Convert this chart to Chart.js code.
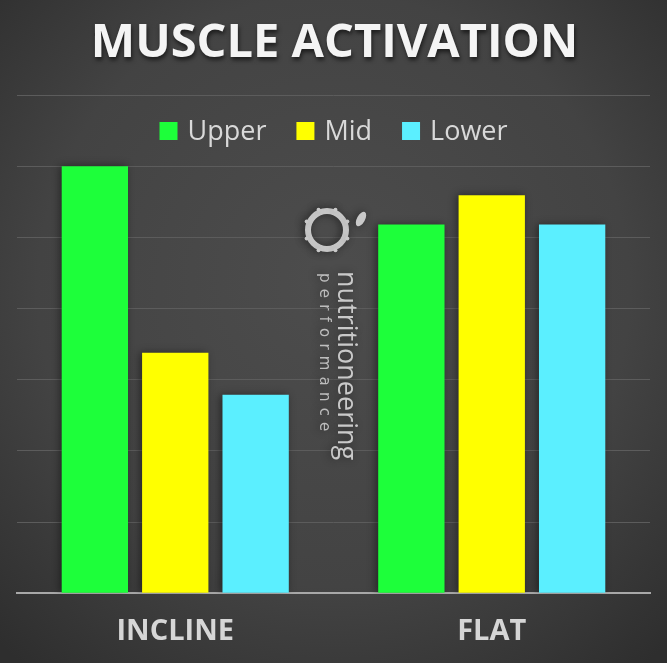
<!DOCTYPE html>
<html>
<head>
<meta charset="utf-8">
<script src="https://cdn.jsdelivr.net/npm/chart.js@4.4.1/dist/chart.umd.min.js"></script>
<style>
	html, body { margin: 0; padding: 0; background: #3c3c3c; }
	#wrap { width: 667px; height: 663px; }
</style>
</head>
<body>
<div id="wrap"><canvas id="muscleChart" width="667" height="663"></canvas></div>
<script>
const CATEGORIES = ['INCLINE', 'FLAT'];
const UPPER = [6.0, 5.18];
const MID = [3.38, 5.59];
const LOWER = [2.79, 5.18];
const Y_MAX = 7;

const COLOR_UPPER = '#1dff3a';
const COLOR_MID = '#ffff00';
const COLOR_LOWER = '#5befff';

// dark radial background
const backgroundPlugin = {
	id: 'background',
	beforeDraw(chart) {
		const { ctx, width, height } = chart;
		const g = ctx.createRadialGradient(width / 2, height * 0.42, 20, width / 2, height * 0.45, width * 0.72);
		g.addColorStop(0, '#4c4c4c');
		g.addColorStop(0.6, '#434343');
		g.addColorStop(1, '#2e2e2e');
		ctx.save();
		ctx.fillStyle = g;
		ctx.fillRect(0, 0, width, height);
		ctx.restore();
	},
};

// soft shadow behind the bars
const barShadow = {
	id: 'barShadow',
	beforeDatasetsDraw(chart) {
		const ctx = chart.ctx;
		ctx.save();
		ctx.shadowColor = 'rgba(0, 0, 0, 0.45)';
		ctx.shadowBlur = 8;
		ctx.shadowOffsetX = -2;
		ctx.shadowOffsetY = 0;
	},
	afterDatasetsDraw(chart) {
		chart.ctx.restore();
	},
};

// watermark logo + rotated text
const watermark = {
	id: 'watermark',
	beforeDatasetsDraw(chart) {
		const ctx = chart.ctx;
		ctx.save();
		ctx.strokeStyle = '#c9c9c9';
		ctx.fillStyle = '#c9c9c9';
		ctx.lineWidth = 6;
		ctx.beginPath();
		ctx.arc(327, 230, 19, 0, Math.PI * 2);
		ctx.stroke();
		// notches on the ring
		for (let i = 0; i < 8; i++) {
			const a = i * Math.PI / 4 + Math.PI / 8;
			ctx.beginPath();
			ctx.arc(327 + Math.cos(a) * 22, 230 + Math.sin(a) * 22, 2, 0, Math.PI * 2);
			ctx.fill();
		}
		// leaf
		ctx.beginPath();
		ctx.ellipse(361, 219, 4, 8, 0.5, 0, Math.PI * 2);
		ctx.fill();

		ctx.translate(346, 271);
		ctx.rotate(Math.PI / 2);
		ctx.font = '27px "Open Sans", sans-serif';
		ctx.textBaseline = 'middle';
		ctx.textAlign = 'left';
		ctx.fillText('nutritioneering', 0, 0);
		ctx.font = '15px "DejaVu Sans", sans-serif';
		ctx.fillStyle = '#bdbdbd';
		let x = 2;
		for (const ch of 'performance') {
			ctx.fillText(ch, x, 22);
			x += ctx.measureText(ch).width + 6.2;
		}
		ctx.restore();
	},
};

// title with drop shadow
const titleShadow = {
	id: 'titleShadow',
	beforeDraw(chart) {
		const ctx = chart.ctx;
		ctx.save();
		ctx.shadowColor = 'rgba(0,0,0,0.6)';
		ctx.shadowBlur = 4;
		ctx.shadowOffsetX = 1;
		ctx.shadowOffsetY = 3;
		ctx.font = 'bold 47px "Open Sans", sans-serif';
		ctx.fillStyle = '#f4f4f4';
		ctx.textAlign = 'center';
		ctx.textBaseline = 'middle';
		ctx.fillText(chart.options.plugins.title.text, chart.width / 2 + 1, 44);
		ctx.restore();
	},
};

// horizontal legend sitting inside the plot area
const legendInside = {
	id: 'legendInside',
	afterDatasetsDraw(chart) {
		const ctx = chart.ctx;
		const box = 18, gap = 10, spacing = 30, cy = 131;
		ctx.save();
		ctx.font = '27px "Open Sans", sans-serif';
		const items = chart.data.datasets.map(ds => ({
			label: ds.label,
			color: ds.backgroundColor,
			w: ctx.measureText(ds.label).width,
		}));
		let total = items.reduce((s, it) => s + box + gap + it.w, 0) + spacing * (items.length - 1);
		let x = (chart.chartArea.left + chart.chartArea.right) / 2 - total / 2;
		ctx.textBaseline = 'middle';
		ctx.textAlign = 'left';
		items.forEach(it => {
			ctx.fillStyle = it.color;
			ctx.fillRect(x, cy - box / 2, box, box);
			ctx.fillStyle = '#d9d9d9';
			ctx.fillText(it.label, x + box + gap, cy + 1);
			x += box + gap + it.w + spacing;
		});
		ctx.restore();
	},
};

const ctx = document.querySelector('#muscleChart').getContext('2d');

const muscleChart = new Chart(ctx, {
	type: 'bar',
	data: {
		labels: CATEGORIES,
		datasets: [
			{ label: 'Upper', data: UPPER, backgroundColor: COLOR_UPPER },
			{ label: 'Mid', data: MID, backgroundColor: COLOR_MID },
			{ label: 'Lower', data: LOWER, backgroundColor: COLOR_LOWER },
		],
	},
	options: {
		responsive: false,
		animation: false,
		layout: {
			padding: { left: 17, right: 17, top: 0, bottom: 1 },
		},
		datasets: {
			bar: {
				categoryPercentage: 0.762,
				barPercentage: 0.825,
			},
		},
		scales: {
			x: {
				grid: { display: false },
				border: { display: true, color: '#a8a8a8', width: 2 },
				ticks: {
					color: '#d6d6d6',
					padding: 13,
					font: { family: '"Open Sans", sans-serif', size: 29, weight: 'bold' },
				},
			},
			y: {
				min: 0,
				max: Y_MAX,
				ticks: { display: false, stepSize: 1 },
				border: { display: false },
				grid: { color: '#5c5c5c', lineWidth: 1, drawTicks: false },
			},
		},
		plugins: {
			tooltip: { enabled: false },
			legend: { display: false },
			title: {
				display: true,
				text: 'MUSCLE ACTIVATION',
				color: 'rgba(0,0,0,0)',
				font: { family: '"Open Sans", sans-serif', size: 45, weight: 'bold' },
				padding: { top: 16, bottom: 25 },
			},
		},
	},
	plugins: [backgroundPlugin, titleShadow, barShadow, watermark, legendInside],
});
</script>
</body>
</html>
